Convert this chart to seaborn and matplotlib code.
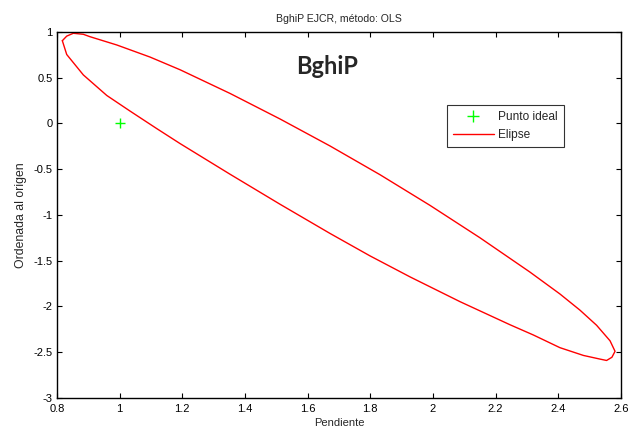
import matplotlib
matplotlib.use("Agg")
import matplotlib.pyplot as plt
import seaborn as sns
import pandas as pd
from matplotlib.lines import Line2D

# Ellipse outline (pendiente, ordenada), in drawing order
ellipse_x = [0.817, 0.831, 0.852, 0.884, 0.905, 0.991, 1.097, 1.193, 1.352, 1.512,
             1.671, 1.831, 1.990, 2.149, 2.309, 2.405, 2.469, 2.522, 2.565, 2.581,
             2.571, 2.554, 2.533, 2.480, 2.405, 2.320, 2.246, 2.086, 1.927, 1.799,
             1.671, 1.512, 1.352, 1.193, 1.118, 1.033, 0.959, 0.884, 0.831, 0.817]
ellipse_y = [0.905, 0.955, 0.986, 0.975, 0.949, 0.858, 0.726, 0.587, 0.329, 0.049,
             -0.245, -0.560, -0.894, -1.247, -1.623, -1.863, -2.040, -2.205, -2.375, -2.490,
             -2.555, -2.590, -2.575, -2.535, -2.450, -2.311, -2.200, -1.947, -1.677, -1.447,
             -1.201, -0.883, -0.554, -0.220, -0.055, 0.136, 0.306, 0.531, 0.754, 0.905]
ideal_x = [1.0]
ideal_y = [0.0]
x_ticks = [0.8, 1.0, 1.2, 1.4, 1.6, 1.8, 2.0, 2.2, 2.4, 2.6]
x_ticklabels = ["0.8", "1", "1.2", "1.4", "1.6", "1.8", "2", "2.2", "2.4", "2.6"]
y_ticks = [1, 0.5, 0, -0.5, -1, -1.5, -2, -2.5, -3]
y_ticklabels = ["1", "0.5", "0", "-0.5", "-1", "-1.5", "-2", "-2.5", "-3"]

sns.set_style("ticks", {"xtick.direction": "in", "ytick.direction": "in"})
plt.rcParams['font.family'] = ['Liberation Sans', 'DejaVu Sans']

fig = plt.figure(figsize=(6.32, 4.36), dpi=100)
ax = fig.add_axes([0.0902, 0.0872, 0.8924, 0.8394])

df_e = pd.DataFrame({"x": ellipse_x, "y": ellipse_y})
sns.lineplot(data=df_e, x="x", y="y", sort=False, estimator=None, color="#ff0000",
             linewidth=1.0, ax=ax)
df_p = pd.DataFrame({"x": ideal_x, "y": ideal_y})
sns.scatterplot(data=df_p, x="x", y="y", marker="+", color="#00ff00", s=60,
                linewidth=1.0, ax=ax)

ax.set_xlim(0.8, 2.6)
ax.set_ylim(-3, 1)
ax.set_xticks(x_ticks)
ax.set_xticklabels(x_ticklabels, fontsize=8)
ax.set_yticks(y_ticks)
ax.set_yticklabels(y_ticklabels, fontsize=8)
ax.tick_params(direction="in", top=True, right=True, length=3.5, width=0.8,
               colors="black")
ax.tick_params(axis="x", pad=4)
ax.tick_params(axis="y", pad=3)
for s in ax.spines.values():
    s.set_color("black")
    s.set_linewidth(1.0)

ax.set_xlabel("Pendiente", fontsize=8, labelpad=3)
ax.set_ylabel("Ordenada al origen", fontsize=8.8, labelpad=5)
ax.set_title("BghiP EJCR, método: OLS", fontsize=7.6, pad=7)

ax.text(0.479, 0.885, "BghiP", transform=ax.transAxes, fontsize=17,
        fontweight="bold", family=["Lato", "DejaVu Sans"], ha="center", va="baseline")

handles = [Line2D([], [], color="#00ff00", marker="+", linestyle="none",
                  markersize=8, markeredgewidth=1.0),
           Line2D([], [], color="#ff0000", linewidth=1.0)]
leg = ax.legend(handles, ["Punto ideal", "Elipse"], loc="upper left",
                bbox_to_anchor=(0.6915, 0.8005), borderaxespad=0, fontsize=8.6,
                frameon=True, fancybox=False, edgecolor="black", borderpad=0.5,
                labelspacing=0.5, handlelength=3.4, handletextpad=0.4)
leg.get_frame().set_linewidth(0.8)

fig.savefig("out.png", dpi=100)
